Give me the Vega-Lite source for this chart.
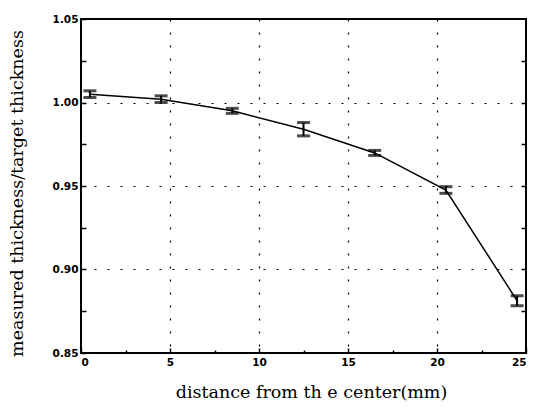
{
  "$schema": "https://vega.github.io/schema/vega-lite/v6.json",
  "width": 445,
  "height": 334,
  "autosize": {"type": "none"},
  "padding": {"left": 81, "top": 19, "right": 18, "bottom": 58},
  "background": "white",
  "config": {
    "view": {"stroke": "black", "strokeWidth": 2},
    "axis": {
      "domain": false,
      "tickColor": "black",
      "tickSize": -5,
      "tickWidth": 1.5,
      "labelFont": "DejaVu Sans",
      "labelFontWeight": "bold",
      "labelFontSize": 10.5,
      "labelColor": "black",
      "titleFont": "DejaVu Serif",
      "titleFontWeight": "normal",
      "titleFontSize": 17.5,
      "titleColor": "black",
      "gridColor": "black",
      "gridDash": [2, 11],
      "gridWidth": 1.2
    }
  },
  "data": {
    "values": [
      {"x": 0.5, "y": 1.005, "err": 0.002},
      {"x": 4.5, "y": 1.002, "err": 0.002},
      {"x": 8.5, "y": 0.995, "err": 0.0015},
      {"x": 12.5, "y": 0.984, "err": 0.004},
      {"x": 16.5, "y": 0.9698, "err": 0.0015},
      {"x": 20.5, "y": 0.9476, "err": 0.002},
      {"x": 24.5, "y": 0.8813, "err": 0.003}
    ]
  },
  "resolve": {"axis": {"y": "independent"}},
  "layer": [
    {
      "mark": {"type": "line", "color": "black", "strokeWidth": 1.5, "interpolate": "linear"},
      "encoding": {
        "x": {
          "field": "x", "type": "quantitative",
          "scale": {"domain": [0, 25], "nice": false, "zero": false},
          "axis": {
            "title": "distance from th e center(mm)",
            "values": [0, 2.5, 5, 7.5, 10, 12.5, 15, 17.5, 20, 22.5, 25],
            "labelExpr": "datum.value % 5 == 0 ? datum.label : ''",
            "gridOpacity": {"condition": {"test": "datum.value % 5 == 0 && datum.value > 0 && datum.value < 25", "value": 1}, "value": 0},
            "tickSize": {"condition": {"test": "datum.value % 5 == 0", "value": -5}, "value": -3},
            "labelPadding": 9,
            "titlePadding": 16,
            "titleX": 230,
            "format": "d"
          }
        },
        "y": {
          "field": "y", "type": "quantitative",
          "scale": {"domain": [0.85, 1.05], "nice": false, "zero": false},
          "axis": {
            "title": "measured thickness/target thickness",
            "values": [0.85, 0.875, 0.9, 0.925, 0.95, 0.975, 1.0, 1.025, 1.05],
            "labelExpr": "abs(datum.value*20 - round(datum.value*20)) < 0.001 ? format(datum.value, '.2f') : ''",
            "gridOpacity": {"condition": {"test": "abs(datum.value*20 - round(datum.value*20)) < 0.001 && datum.value > 0.86 && datum.value < 1.04", "value": 1}, "value": 0},
            "labelPadding": 8,
            "titlePadding": 26,
            "titleY": 174
          }
        }
      }
    },
    {
      "mark": {"type": "rule", "color": "black", "strokeWidth": 2},
      "encoding": {
        "x": {"field": "x", "type": "quantitative"},
        "y": {"field": "lo", "type": "quantitative", "axis": {
          "orient": "right", "title": null, "labels": false, "grid": false,
          "values": [0.875, 0.9, 0.925, 0.95, 0.975, 1.0, 1.025]
        }},
        "y2": {"field": "hi"}
      },
      "transform": [
        {"calculate": "datum.y - datum.err", "as": "lo"},
        {"calculate": "datum.y + datum.err", "as": "hi"}
      ]
    },
    {
      "transform": [{"calculate": "datum.y - datum.err", "as": "lo"}],
      "mark": {"type": "tick", "color": "black", "thickness": 3, "size": 13, "orient": "horizontal"},
      "encoding": {
        "x": {"field": "x", "type": "quantitative"},
        "y": {"field": "lo", "type": "quantitative", "axis": null}
      }
    },
    {
      "transform": [{"calculate": "datum.y + datum.err", "as": "hi"}],
      "mark": {"type": "tick", "color": "black", "thickness": 3, "size": 13, "orient": "horizontal"},
      "encoding": {
        "x": {"field": "x", "type": "quantitative"},
        "y": {"field": "hi", "type": "quantitative", "axis": null}
      }
    }
  ]
}
